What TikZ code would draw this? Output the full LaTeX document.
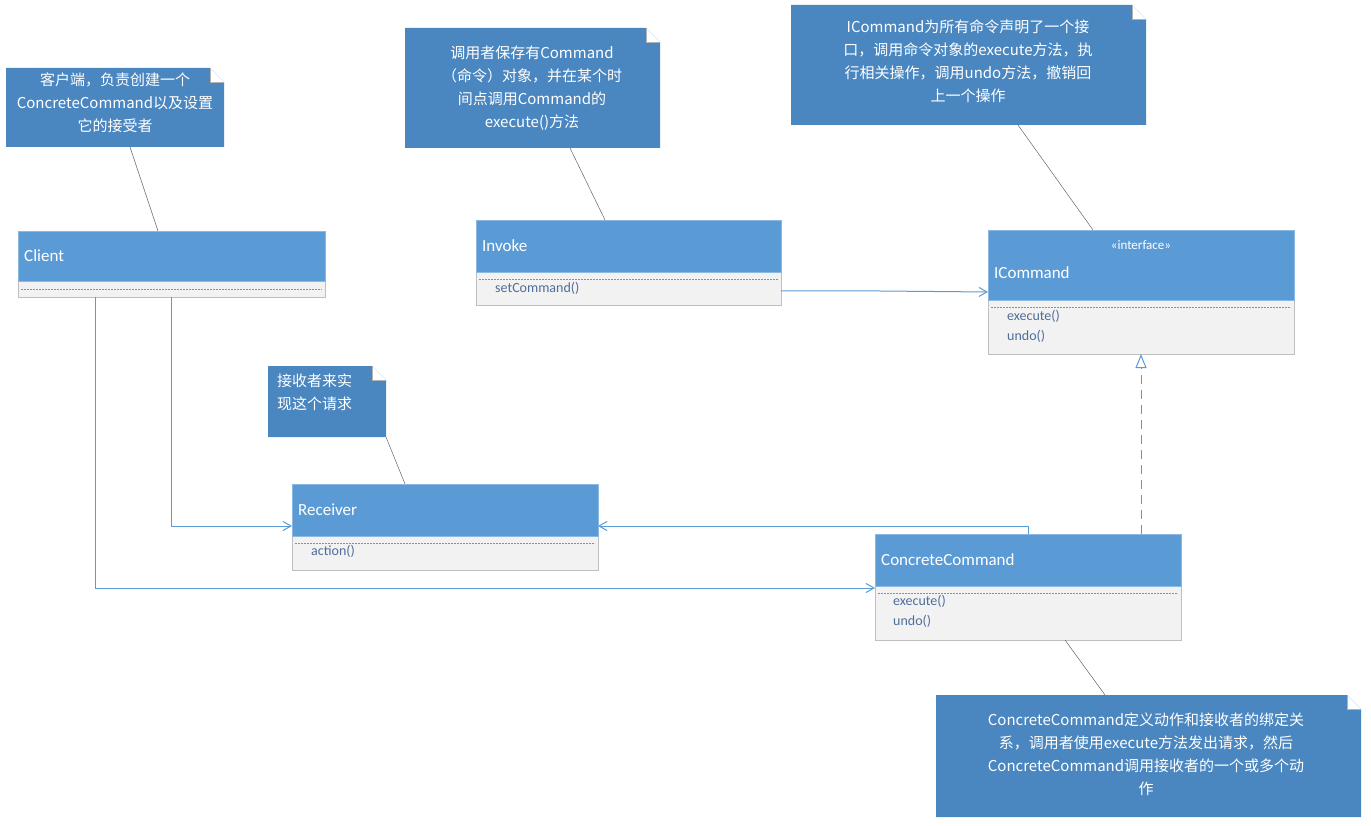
\documentclass[tikz,border=0pt]{standalone}
\usepackage{fontspec}
\setmainfont{Carlito}
\newfontfamily\cjk{Noto Sans CJK SC}
\usetikzlibrary{arrows.meta}
\definecolor{hdr}{HTML}{5B9BD5}
\definecolor{notec}{HTML}{4A86C0}
\definecolor{bodyc}{HTML}{F2F2F2}
\definecolor{methc}{HTML}{4E6E99}
\begin{document}
\begin{tikzpicture}[x=1pt,y=-1pt,
  hd/.style={draw=hdr!70!white,fill=hdr,anchor=north west,inner sep=0pt,line width=0.6pt},
  bd/.style={draw=gray!50,fill=bodyc,anchor=north west,inner sep=0pt,line width=0.6pt},
  notebox/.style={fill=notec,draw=notec!80!black,line width=0.4pt},
  nt/.style={text=white,font=\cjk\fontsize{15}{23}\selectfont,align=center,inner sep=0pt},
  cn/.style={text=white,font=\fontsize{17}{20}\selectfont,anchor=west,inner sep=0pt},
  mt/.style={text=methc,font=\fontsize{14}{20}\selectfont,align=left,anchor=north west,inner sep=0pt},
  tie/.style={draw=gray!80!black,line width=0.5pt},
  con/.style={draw=hdr,line width=1pt},
  sep/.style={draw=hdr,dashed,dash pattern=on 2pt off 1pt,line width=0.5pt}]
\fill[white] (0,0) rectangle (1371,826);
% notes
\newcommand\notebox[5]{% name x1 y1 x2 y2
  \fill[notec] (#2,#3) -- (#4-14,#3) -- (#4,#3+14) -- (#4,#5) -- (#2,#5) -- cycle;
  \fill[white] (#4-14,#3) -- (#4,#3+14) -- (#4-14,#3+14) -- cycle;
  \draw[gray!60,line width=0.5pt] (#4-14,#3) -- (#4-14,#3+14) -- (#4,#3+14);
  \coordinate (#1) at ({(#2+#4)/2},{(#3+#5)/2});}
\notebox{n1}{6}{68}{224}{147}
\node[nt] (t1) at (115,103) {客户端，负责创建一个\\ConcreteCommand以及设置\\它的接受者};
\notebox{n2}{405}{28}{660}{148}
\node[nt] (t2) at (532,88) {调用者保存有Command\\（命令）对象，并在某个时\\间点调用Command的\\execute()方法};
\notebox{n3}{791}{5}{1146}{125}
\node[nt] (t3) at (968,61) {ICommand为所有命令声明了一个接\\口，调用命令对象的execute方法，执\\行相关操作，调用undo方法，撤销回\\上一个操作};
\notebox{n4}{268}{366}{386}{437}
\node[nt,align=left,anchor=north west] (t4) at (277,374) {接收者来实\\现这个请求};
\notebox{n5}{936}{695}{1361}{817}
\node[nt] (t5) at (1146,754) {ConcreteCommand定义动作和接收者的绑定关\\系，调用者使用execute方法发出请求，然后\\ConcreteCommand调用接收者的一个或多个动\\作};
% classes
\node[bd,minimum width=307,minimum height=66] (clientb) at (18,231) {};
\node[hd,minimum width=307,minimum height=50] (client) at (18,231) {};
\node[cn] at (24,256) {Client};
\draw[sep] (21,289) -- (322,289);
\node[bd,minimum width=305,minimum height=85] (invokeb) at (476,220) {};
\node[hd,minimum width=305,minimum height=52] (invoke) at (476,220) {};
\node[cn] at (482,246) {Invoke};
\draw[sep] (479,279) -- (778,279);
\node[mt] at (495,282) {setCommand()};
\node[bd,minimum width=306,minimum height=124] (icb) at (988,230) {};
\node[hd,minimum width=306,minimum height=70] (ic) at (988,230) {};
\node[text=white,font=\fontsize{13}{15}\selectfont,inner sep=0pt] at (1141,245) {<<interface>>};
\node[cn] at (994,273) {ICommand};
\draw[sep] (991,307) -- (1291,307);
\node[mt] at (1007,310) {execute()\\undo()};
\node[bd,minimum width=306,minimum height=86] (recb) at (292,484) {};
\node[hd,minimum width=306,minimum height=52] (rec) at (292,484) {};
\node[cn] at (298,510) {Receiver};
\draw[sep] (295,543) -- (595,543);
\node[mt] at (311,545) {action()};
\node[bd,minimum width=306,minimum height=106] (ccb) at (875,534) {};
\node[hd,minimum width=306,minimum height=52] (cc) at (875,534) {};
\node[cn] at (881,560) {ConcreteCommand};
\draw[sep] (878,593) -- (1178,593);
\node[mt] at (893,595) {execute()\\undo()};
% ties
\draw[tie] (130,147) -- (158,231);
\draw[tie] (570,148) -- (605,220);
\draw[tie] (1018,125) -- (1093,230);
\draw[tie] (386,437) -- (405,484);
\draw[tie] (1065,640) -- (1105,695);
% connectors
\coordinate (a1) at (171,297);
\draw[con,-{Straight Barb[length=8pt,width=9pt]}] (a1) |- (292,526);
\coordinate (a2) at (95,297);
\draw[con,-{Straight Barb[length=8pt,width=9pt]}] (a2) |- (875,588);
\draw[con,-{Straight Barb[length=8pt,width=9pt]}] (781,291) -- (880,291) -- (988,292);
\draw[con,-{Straight Barb[length=8pt,width=9pt]}] (1028,534) |- (598,526);
\draw[con,dashed,dash pattern=on 9pt off 6pt,-{Triangle[open,length=14pt,width=11pt]}] (1141,534) -- (1141,354);
\end{tikzpicture}
\end{document}
